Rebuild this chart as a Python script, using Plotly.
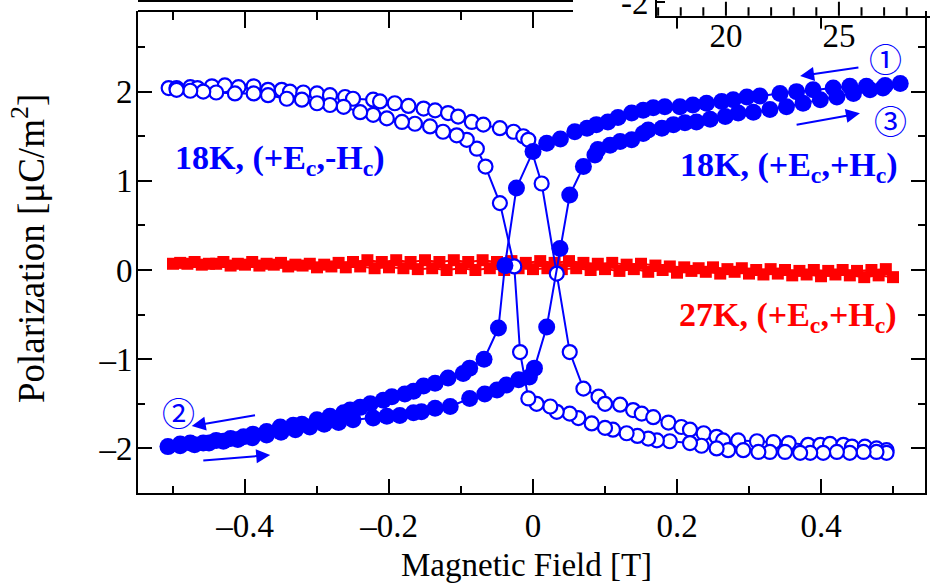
import plotly.graph_objects as go

# ---------------- data ----------------
# 18K, (+Ec,+Hc): filled circles, sweep 1 (H from +0.5 down to -0.5)
filled_down_H = [0.51, 0.489, 0.463, 0.44, 0.417, 0.389, 0.366, 0.343, 0.315, 0.297,
                 0.278, 0.262, 0.241, 0.222, 0.204, 0.183, 0.167, 0.153, 0.137, 0.118,
                 0.104, 0.088, 0.075, 0.058, 0.038, 0.019, 0.0, -0.023, -0.039, -0.048,
                 -0.068, -0.088, -0.097, -0.118, -0.136, -0.152, -0.166, -0.178, -0.196, -0.208,
                 -0.226, -0.24, -0.254, -0.263, -0.282, -0.30, -0.321, -0.333, -0.351, -0.37,
                 -0.389, -0.402, -0.42, -0.44, -0.458, -0.476, -0.49, -0.507]
filled_down_P = [2.09, 2.07, 2.06, 2.06, 2.04, 2.02, 2.00, 1.98, 1.95, 1.94,
                 1.91, 1.89, 1.87, 1.85, 1.83, 1.83, 1.82, 1.79, 1.76, 1.71,
                 1.66, 1.63, 1.59, 1.55, 1.47, 1.42, 1.33, 0.92, 0.05, -0.65,
                 -1.00, -1.10, -1.16, -1.21, -1.27, -1.30, -1.36, -1.39, -1.42, -1.46,
                 -1.50, -1.54, -1.57, -1.60, -1.64, -1.68, -1.73, -1.74, -1.76, -1.81,
                 -1.84, -1.87, -1.89, -1.91, -1.94, -1.94, -1.95, -1.98]
# sweep 2 (H from -0.5 back up to +0.5)
filled_up_H = [-0.49, -0.47, -0.45, -0.43, -0.41, -0.39, -0.37, -0.35, -0.33, -0.31,
               -0.29, -0.27, -0.25, -0.222, -0.203, -0.185, -0.166, -0.155, -0.136, -0.115,
               -0.088, -0.067, -0.05, -0.037, -0.02, -0.005, 0.002, 0.019, 0.0375, 0.051,
               0.07, 0.086, 0.09, 0.107, 0.121, 0.137, 0.153, 0.16, 0.179, 0.195,
               0.211, 0.227, 0.246, 0.267, 0.285, 0.306, 0.329, 0.352, 0.375, 0.399,
               0.422, 0.445, 0.468, 0.486]
filled_up_P = [-1.97, -1.96, -1.94, -1.92, -1.90, -1.88, -1.85, -1.82, -1.79, -1.76,
               -1.73, -1.71, -1.68, -1.66, -1.64, -1.63, -1.60, -1.59, -1.55, -1.53,
               -1.44, -1.39, -1.345, -1.29, -1.23, -1.20, -1.10, -0.64, 0.24, 0.84,
               1.16, 1.29, 1.35, 1.40, 1.44, 1.46, 1.53, 1.57, 1.59, 1.63,
               1.65, 1.66, 1.69, 1.72, 1.76, 1.77, 1.80, 1.83, 1.87, 1.91,
               1.94, 1.98, 2.02, 2.04]

# 18K, (+Ec,-Hc): open circles, sweep A (H from -0.5 up to +0.5)
open_up_H = [-0.506, -0.495, -0.476, -0.466, -0.446, -0.428, -0.409, -0.388, -0.368, -0.349,
             -0.3375, -0.319, -0.30, -0.282, -0.261, -0.25, -0.222, -0.2125, -0.192, -0.173,
             -0.152, -0.136, -0.118, -0.104, -0.085, -0.069, -0.046, -0.027, -0.0135, -0.0065,
             0.012, 0.033, 0.051, 0.07, 0.091, 0.1, 0.121, 0.139, 0.151, 0.167,
             0.188, 0.206, 0.218, 0.237, 0.255, 0.264, 0.285, 0.311, 0.334, 0.355,
             0.382, 0.399, 0.4125, 0.431, 0.443, 0.461, 0.477, 0.491]
open_up_P = [2.04, 2.04, 2.05, 2.04, 2.06, 2.07, 2.05, 2.06, 2.02, 2.02,
             2.00, 1.99, 1.98, 1.96, 1.94, 1.92, 1.91, 1.89, 1.87, 1.84,
             1.81, 1.79, 1.76, 1.72, 1.66, 1.63, 1.59, 1.55, 1.50, 1.46,
             0.97, -0.04, -0.92, -1.33, -1.42, -1.50, -1.51, -1.57, -1.61, -1.65,
             -1.71, -1.76, -1.79, -1.83, -1.87, -1.91, -1.91, -1.92, -1.93, -1.94,
             -1.96, -1.96, -1.95, -1.96, -1.98, -1.98, -2.00, -2.02]
# sweep B (H from +0.5 back down to -0.5)
open_down_H = [0.491, 0.477, 0.459, 0.44, 0.422, 0.403, 0.385, 0.371, 0.35, 0.329,
               0.313, 0.292, 0.271, 0.255, 0.234, 0.218, 0.19, 0.172, 0.16, 0.145,
               0.13, 0.111, 0.1, 0.0815, 0.063, 0.051, 0.033, 0.024, 0.005, -0.0065,
               -0.018, -0.026, -0.046, -0.066, -0.078, -0.092, -0.106, -0.125, -0.143, -0.164,
               -0.182, -0.203, -0.222, -0.24, -0.263, -0.282, -0.30, -0.321, -0.342, -0.368,
               -0.388, -0.414, -0.44, -0.458, -0.476, -0.495]
open_down_P = [-2.05, -2.04, -2.04, -2.05, -2.04, -2.05, -2.05, -2.05, -2.04, -2.04,
               -2.04, -2.02, -2.02, -2.00, -1.97, -1.94, -1.92, -1.91, -1.89, -1.86,
               -1.83, -1.79, -1.77, -1.72, -1.66, -1.61, -1.59, -1.53, -1.50, -1.44,
               -0.92, 0.04, 0.75, 1.16, 1.36, 1.46, 1.51, 1.55, 1.61, 1.64,
               1.66, 1.70, 1.74, 1.77, 1.83, 1.85, 1.87, 1.91, 1.92, 1.96,
               1.98, 1.98, 1.99, 2.00, 2.01, 2.02]

# 27K, (+Ec,+Hc): red squares
red_down_H = [0.50, 0.48, 0.46, 0.44, 0.42, 0.40, 0.38, 0.36, 0.34, 0.32,
              0.30, 0.28, 0.26, 0.24, 0.22, 0.20, 0.18, 0.16, 0.14, 0.12,
              0.10, 0.08, 0.06, 0.04, 0.02, 0.00, -0.02, -0.04, -0.06, -0.08,
              -0.10, -0.12, -0.14, -0.16, -0.18, -0.20, -0.22, -0.24, -0.26, -0.28,
              -0.30, -0.32, -0.34, -0.36, -0.38, -0.40, -0.42, -0.44, -0.46, -0.48, -0.50]
red_down_P = [-0.08, -0.06, -0.08, -0.06, -0.05, -0.07, -0.05, -0.06, -0.04, -0.05,
              -0.04, -0.02, -0.04, -0.02, -0.01, -0.03, 0.00, -0.02, 0.01, -0.01,
              0.01, 0.00, 0.02, 0.01, 0.02, 0.01, 0.02, 0.00, 0.02, 0.00,
              0.02, 0.00, 0.02, 0.01, 0.02, 0.03, 0.02, 0.04, 0.03, 0.04,
              0.03, 0.05, 0.04, 0.06, 0.05, 0.06, 0.05, 0.07, 0.06, 0.07, 0.07]
red_up_H = [-0.49, -0.47, -0.45, -0.43, -0.41, -0.39, -0.37, -0.35, -0.33, -0.31,
            -0.29, -0.27, -0.25, -0.23, -0.21, -0.19, -0.17, -0.15, -0.13, -0.11,
            -0.09, -0.07, -0.05, -0.03, -0.01, 0.01, 0.03, 0.05, 0.07, 0.09,
            0.11, 0.13, 0.15, 0.17, 0.19, 0.21, 0.23, 0.25, 0.27, 0.29,
            0.31, 0.33, 0.35, 0.37, 0.39, 0.41, 0.43, 0.45, 0.47, 0.49]
red_up_P = [0.08, 0.09, 0.07, 0.09, 0.07, 0.09, 0.07, 0.08, 0.06, 0.07,
            0.06, 0.08, 0.09, 0.11, 0.09, 0.11, 0.09, 0.11, 0.09, 0.11,
            0.09, 0.11, 0.09, 0.10, 0.08, 0.10, 0.08, 0.10, 0.08, 0.07,
            0.08, 0.06, 0.07, 0.05, 0.04, 0.03, 0.02, 0.03, 0.01, 0.02,
            0.00, 0.01, 0.00, -0.01, 0.00, -0.01, 0.00, -0.01, 0.00, 0.01]

x_tickvals = [-0.4, -0.2, 0, 0.2, 0.4]
x_ticktext = ["–0.4", "–0.2", "0", "0.2", "0.4"]
x_minorvals = [-0.5, -0.3, -0.1, 0.1, 0.3, 0.5]
y_tickvals = [-2, -1, 0, 1, 2]
y_ticktext = ["–2", "–1", "0", "1", "2"]
y_minorvals = [-1.5, -0.5, 0.5, 1.5, 2.5]
inset_x_range = [16.95, 29.03]
inset_x_tickvals = [20, 25]
inset_x_minorvals = [17, 18, 19, 21, 22, 23, 24, 26, 27, 28]
inset_y_range = [-2.3, -1.95]
inset_y_tickvals = [-2]
inset_y_ticktext = ["-2"]

BLUE = "#0000FF"
RED = "#FF0000"
FONT = "Liberation Serif"

# ---------------- layout geometry ----------------
W, H = 930, 584
ML, MB = 138, 91
PW, PH = W - ML, H - MB           # paper area in px
X_RANGE = [-0.5486, 0.5444]
Y_RANGE = [-2.5, 2.904]
x_dom_end = (925 - ML) / PW
y_dom_end = (PH - 11) / PH
top_split_px = 573
top_split = (top_split_px - ML) / PW
x_per_px = (X_RANGE[1] - X_RANGE[0]) / (925 - ML)
split_val = X_RANGE[0] + (top_split_px - ML) * x_per_px
inset_dom = [(657 - ML) / PW, 1]
inset_line_pos = (PH - 15.7) / PH
y_per_px = (Y_RANGE[1] - Y_RANGE[0]) / (PH - 11)

fig = go.Figure()

fig.add_trace(go.Scatter(
    x=red_down_H + red_up_H, y=red_down_P + red_up_P, mode="lines+markers",
    line=dict(color=RED, width=2),
    marker=dict(symbol="square", size=12, color=RED), name="27K"))

fig.add_trace(go.Scatter(
    x=open_up_H + open_down_H, y=open_up_P + open_down_P, mode="lines+markers",
    line=dict(color=BLUE, width=2),
    marker=dict(symbol="circle", size=14, color="white", line=dict(color=BLUE, width=2.2)),
    name="18K -H"))

fig.add_trace(go.Scatter(
    x=filled_down_H + filled_up_H, y=filled_down_P + filled_up_P, mode="lines+markers",
    line=dict(color=BLUE, width=2),
    marker=dict(symbol="circle", size=17, color=BLUE), name="18K +H"))

# lower ends of the main top-frame ticks that peek out below the inset
peek_vals = [v for v in x_tickvals if v > split_val]
fig.add_trace(go.Scatter(
    x=peek_vals, y=[Y_RANGE[1] - 12 * y_per_px] * len(peek_vals),
    mode="markers", hoverinfo="skip", showlegend=False,
    marker=dict(symbol="line-ns", size=8, line=dict(color="black", width=2))))

# inset tick marks (pointing up from the inset axis line, clipped to the inset)
fig.add_trace(go.Scatter(
    x=inset_x_tickvals, y=[inset_y_range[0]] * len(inset_x_tickvals),
    xaxis="x2", yaxis="y2", mode="markers", hoverinfo="skip", showlegend=False,
    marker=dict(symbol="line-ns", size=20, line=dict(color="black", width=2))))
fig.add_trace(go.Scatter(
    x=inset_x_minorvals, y=[inset_y_range[0]] * len(inset_x_minorvals),
    xaxis="x2", yaxis="y2", mode="markers", hoverinfo="skip", showlegend=False,
    marker=dict(symbol="line-ns", size=12, line=dict(color="black", width=2))))

# empty trace so the top-frame axis exists
fig.add_trace(go.Scatter(x=[None], y=[None], xaxis="x3", yaxis="y", showlegend=False))

axis_common = dict(showgrid=False, zeroline=False, showline=True, linecolor="black",
                   linewidth=2, ticks="inside", tickcolor="black", tickwidth=2,
                   automargin=False)
TICKFONT = dict(size=33, family=FONT, color="black")

fig.update_layout(
    width=W, height=H,
    margin=dict(l=ML, r=0, t=0, b=MB, pad=0, autoexpand=False),
    showlegend=False,
    plot_bgcolor="rgba(0,0,0,0)", paper_bgcolor="white",
    font=dict(family=FONT, color="black"),
    xaxis=dict(**axis_common, domain=[0, x_dom_end], range=X_RANGE, mirror=False,
               ticklen=14, tickmode="array", tickvals=x_tickvals, ticktext=x_ticktext,
               tickfont=TICKFONT, ticklabelstandoff=2,
               minor=dict(tickmode="array", tickvals=x_minorvals, ticks="inside",
                          ticklen=7, tickwidth=2, tickcolor="black", showgrid=False)),
    yaxis=dict(**axis_common, domain=[0, y_dom_end], range=Y_RANGE, mirror="ticks",
               ticklen=14, tickmode="array", tickvals=y_tickvals, ticktext=y_ticktext,
               tickfont=TICKFONT, ticklabelstandoff=-3,
               minor=dict(tickmode="array", tickvals=y_minorvals, ticks="inside",
                          ticklen=7, tickwidth=2, tickcolor="black", showgrid=False)),
    # top border of the main frame (left part, the rest is hidden by the inset)
    xaxis3=dict(**axis_common, domain=[0, top_split], range=[X_RANGE[0], split_val],
                anchor="free", position=y_dom_end, side="top", ticklen=16,
                tickmode="array", tickvals=x_tickvals, showticklabels=False,
                minor=dict(tickmode="array", tickvals=x_minorvals, ticks="inside",
                           ticklen=8, tickwidth=2, tickcolor="black", showgrid=False)),
    # cropped inset at the top right
    xaxis2=dict(showgrid=False, zeroline=False, showline=True, linecolor="black",
                linewidth=2, ticks="", domain=inset_dom, range=inset_x_range,
                anchor="y2", tickmode="array", tickvals=inset_x_tickvals, automargin=False,
                tickfont=TICKFONT, ticklabelstandoff=-10, ticklabeloverflow="allow"),
    yaxis2=dict(**axis_common, domain=[inset_line_pos, 1], range=inset_y_range,
                anchor="x2", ticklen=8, tickmode="array", tickvals=inset_y_tickvals,
                ticktext=inset_y_ticktext, tickfont=TICKFONT, ticklabeloverflow="allow"),
)

# line at the very top edge (frame of the panel above)
fig.add_shape(type="line", xref="paper", yref="paper", x0=0, x1=top_split,
              y0=(PH - 1) / PH, y1=(PH - 1) / PH, line=dict(color="black", width=2))

# axis titles
fig.add_annotation(text="Magnetic Field [T]", xref="paper", yref="paper",
                   x=(526.5 - ML) / PW, y=(PH - 565) / PH, xanchor="center", yanchor="middle",
                   showarrow=False, font=dict(size=33, family=FONT, color="black"))
fig.add_annotation(text="Polarization [μC/m<sup>2</sup>]", xref="paper", yref="paper",
                   x=(29 - ML) / PW, y=(PH - 249) / PH, xanchor="center", yanchor="middle",
                   textangle=-90, showarrow=False, font=dict(size=37, family=FONT, color="black"))

# series labels
fig.add_annotation(text="<b>18K, (+E<sub>c</sub>,-H<sub>c</sub>)</b>", x=-0.5, y=1.23,
                   xanchor="left", yanchor="middle", showarrow=False,
                   font=dict(size=34, family=FONT, color=BLUE))
fig.add_annotation(text="<b>18K, (+E<sub>c</sub>,+H<sub>c</sub>)</b>", x=0.509, y=1.16,
                   xanchor="right", yanchor="middle", showarrow=False,
                   font=dict(size=34, family=FONT, color=BLUE))
fig.add_annotation(text="<b>27K, (+E<sub>c</sub>,+H<sub>c</sub>)</b>", x=0.508, y=-0.53,
                   xanchor="right", yanchor="middle", showarrow=False,
                   font=dict(size=34, family=FONT, color=RED))

# sweep order markers
for txt, xx, yy in [("①", 0.490, 2.377), ("③", 0.496, 1.682), ("②", -0.493, -1.589)]:
    fig.add_annotation(text=txt, x=xx, y=yy, xanchor="center", yanchor="middle",
                       showarrow=False, font=dict(size=33, family="Noto Sans CJK JP", color=BLUE))

for (hx, hy, tx, ty) in [(0.371, 2.175, 0.454, 2.272), (0.454, 1.757, 0.364, 1.626),
                         (-0.474, -1.749, -0.384, -1.626), (-0.365, -2.074, -0.460, -2.138)]:
    fig.add_annotation(text="", x=hx, y=hy, ax=tx, ay=ty, axref="x", ayref="y",
                       showarrow=True, arrowhead=2, arrowsize=1.4, arrowwidth=2,
                       arrowcolor=BLUE, standoff=0, startstandoff=0)

fig.write_html("out.html", config={"displayModeBar": False},
               post_script="document.body.style.margin='0px';")
